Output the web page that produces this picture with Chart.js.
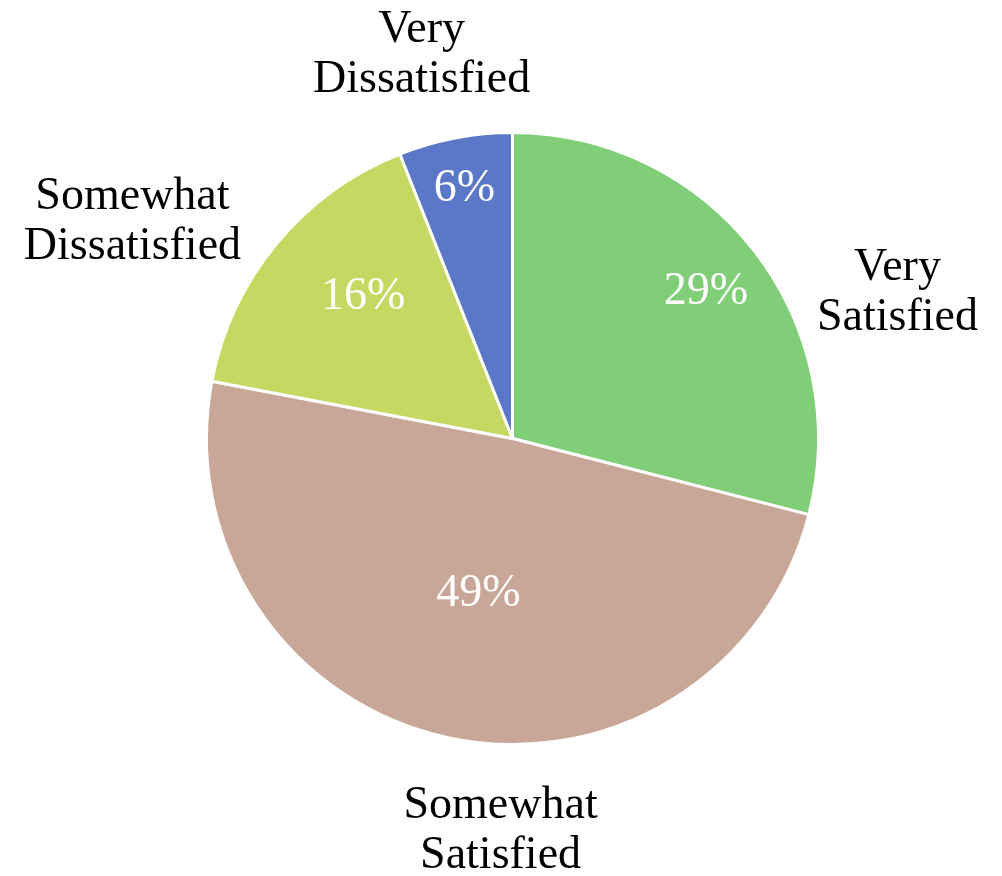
<!DOCTYPE html>
<html>
<head>
<meta charset="utf-8">
<title>Satisfaction</title>
<script src="https://cdn.jsdelivr.net/npm/chart.js@4/dist/chart.umd.min.js"></script>
<style>
  html, body { margin: 0; padding: 0; background: #ffffff; }
  #wrap { width: 1002px; height: 876px; }
</style>
</head>
<body>
<div id="wrap"><canvas id="satisfactionChart"></canvas></div>
<script>
// survey answers, clockwise from 12 o'clock
const categories = [
  ["Very", "Satisfied"],
  ["Somewhat", "Satisfied"],
  ["Somewhat", "Dissatisfied"],
  ["Very", "Dissatisfied"],
];
const shares = [29, 49, 16, 6];
const sliceColors = ["#80CE78", "#C8A798", "#C6D862", "#5B78C8"];

const labelFont = '46px "Liberation Serif", "Times New Roman", serif';

// draws the percentage inside each slice and the category name outside
const sliceLabels = {
  id: "sliceLabels",
  afterDatasetsDraw(chart, args, opts) {
    const ctx = chart.ctx;
    const arcs = chart.getDatasetMeta(0).data;
    ctx.save();
    ctx.font = labelFont;
    ctx.textAlign = "center";
    ctx.textBaseline = "middle";
    arcs.forEach((arc, i) => {
      const { x, y, startAngle, endAngle, outerRadius } = arc.getProps(
        ["x", "y", "startAngle", "endAngle", "outerRadius"], true
      );
      const mid = (startAngle + endAngle) / 2 + opts.insideTurn[i];
      const f = opts.inside[i];
      ctx.fillStyle = "#ffffff";
      ctx.fillText(
        shares[i] + "%",
        x + Math.cos(mid) * outerRadius * f,
        y + Math.sin(mid) * outerRadius * f + 3
      );

      const [ox, oy] = opts.outside[i];
      const cx = x + ox * outerRadius;
      const cy = y + oy * outerRadius;
      const lines = categories[i];
      ctx.fillStyle = "#000000";
      lines.forEach((line, j) => {
        ctx.fillText(line, cx, cy + (j - (lines.length - 1) / 2) * opts.lineHeight);
      });
    });
    ctx.restore();
  },
};

const ctx = document.getElementById("satisfactionChart").getContext("2d");
new Chart(ctx, {
  type: "pie",
  data: {
    labels: categories.map((c) => c.join(" ")),
    datasets: [
      {
        data: shares,
        backgroundColor: sliceColors,
        borderColor: "#ffffff",
        borderWidth: 3,
        hoverOffset: 0,
      },
    ],
  },
  options: {
    responsive: true,
    maintainAspectRatio: false,
    animation: false,
    layout: {
      padding: { top: 130, bottom: 129, left: 205, right: 182 },
    },
    plugins: {
      legend: { display: false },
      tooltip: { enabled: false },
      sliceLabels: {
        inside: [0.8, 0.51, 0.68, 0.84],
        insideTurn: [0, 0, 0.08, 0],
        outside: [
          [1.258, -0.477],
          [-0.039, 1.284],
          [-1.242, -0.709],
          [-0.297, -1.252],
        ],
        lineHeight: 50,
      },
    },
  },
  plugins: [sliceLabels],
});
</script>
</body>
</html>
